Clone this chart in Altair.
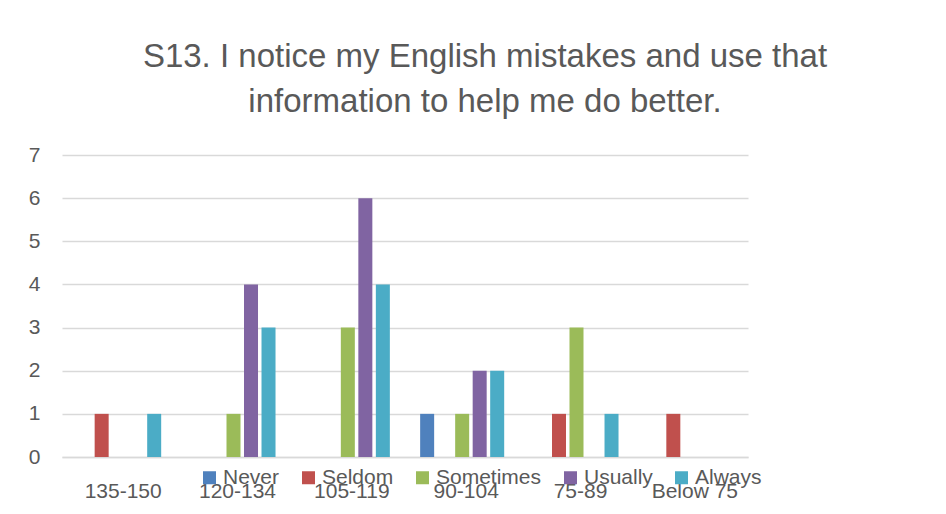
import altair as alt
import pandas as pd

categories = ["135-150", "120-134", "105-119", "90-104", "75-89", "Below 75"]
series = ["Never", "Seldom", "Sometimes", "Usually", "Always"]
never = [0, 0, 0, 1, 0, 0]
seldom = [1, 0, 0, 0, 1, 1]
sometimes = [0, 1, 3, 1, 3, 0]
usually = [0, 4, 6, 2, 0, 0]
always = [1, 3, 4, 2, 1, 0]
colors = ["#4f81bd", "#c0504d", "#9bbb59", "#8064a2", "#4bacc6"]

values = {"Never": never, "Seldom": seldom, "Sometimes": sometimes,
          "Usually": usually, "Always": always}
rows = []
for s in series:
    for c, v in zip(categories, values[s]):
        rows.append({"category": c, "series": s, "value": v})
df = pd.DataFrame(rows)

FONT = "Liberation Sans"
GREY = "#595959"

chart = alt.Chart(df).mark_bar().encode(
    x=alt.X("category:N", sort=categories,
            scale=alt.Scale(paddingInner=0, paddingOuter=0),
            axis=alt.Axis(title=None, labelAngle=0, ticks=False, tickSize=0,
                          labelPadding=23, labelOffset=4, labelFontSize=21,
                          labelColor=GREY, labelFont=FONT,
                          domainColor="#d9d9d9", domainWidth=1.3, grid=False)),
    xOffset=alt.XOffset("series:N", sort=series,
                        scale=alt.Scale(paddingInner=0.2, paddingOuter=0.865)),
    y=alt.Y("value:Q", scale=alt.Scale(domain=[0, 7], nice=False),
            axis=alt.Axis(title=None, values=[0, 1, 2, 3, 4, 5, 6, 7],
                          domain=False, ticks=False, labelPadding=22,
                          labelFontSize=21, labelColor=GREY, labelFont=FONT,
                          gridColor="#d9d9d9", gridWidth=1.3)),
    color=alt.Color("series:N", sort=series,
                    scale=alt.Scale(domain=series, range=colors),
                    legend=alt.Legend(title=None, orient="none", legendX=137,
                                      legendY=312, direction="horizontal",
                                      symbolType="square", symbolSize=169,
                                      symbolStrokeWidth=0, labelFontSize=21,
                                      labelColor=GREY, labelFont=FONT,
                                      columnPadding=18, labelOffset=3,
                                      padding=0)),
).properties(
    width=686,
    height=302,
    title=alt.Title(
        ["S13. I notice my English mistakes and use that",
         "information to help me do better."],
        fontSize=33, font=FONT, color=GREY, fontWeight="normal",
        lineHeight=45, anchor="middle", dx=80, offset=25,
    ),
    autosize=alt.AutoSizeParams(type="none"),
    padding={"left": 54, "top": 147, "right": 190, "bottom": 48},
).configure(background="white").configure_view(stroke=None)

chart.save("out.html", embed_options={"renderer": "svg", "actions": False})
